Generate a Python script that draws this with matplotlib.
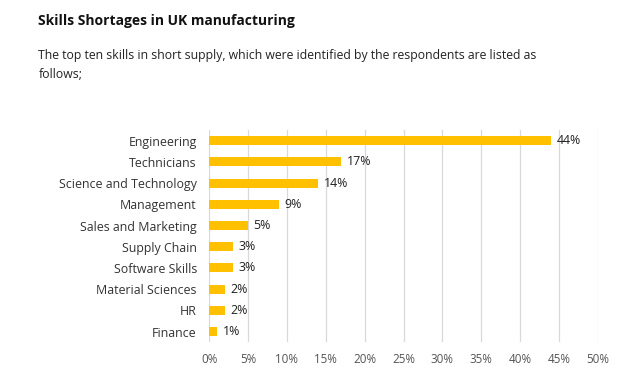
import matplotlib
matplotlib.use("Agg")
from matplotlib import pyplot as plt

skills = ["Engineering", "Technicians", "Science and Technology", "Management",
          "Sales and Marketing", "Supply Chain", "Software Skills",
          "Material Sciences", "HR", "Finance"]
values = [44, 17, 14, 9, 5, 3, 3, 2, 2, 1]
ticks = [0, 5, 10, 15, 20, 25, 30, 35, 40, 45, 50]

plt.rcParams['font.family'] = ['Open Sans', 'DejaVu Sans']

fig = plt.figure(figsize=(6.4, 3.76), dpi=100)
ax = fig.add_axes([0.327, 0.090, 0.607, 0.564])

pos = list(range(len(skills)))[::-1]
ax.barh(pos, values, height=0.42, color="#FFC000", zorder=3)
for p, v in zip(pos, values):
    ax.text(v + 0.7, p, f"{v}%", va="center", ha="left", fontsize=8.9, color="#222222")

ax.set_xlim(0, 50)
ax.set_ylim(-0.5, 9.5)
ax.set_xticks(ticks)
ax.set_xticklabels([f"{t}%" for t in ticks], fontsize=8.4, color="#555555")
ax.set_yticks(pos)
ax.set_yticklabels(skills, fontsize=8.9, color="#333333")
ax.tick_params(length=0, pad=9)
ax.tick_params(axis="x", pad=8)
ax.grid(axis="x", color="#D9D9D9", linewidth=0.9, zorder=0)
for s in ax.spines.values():
    s.set_visible(False)

fig.text(0.06, 0.945, "Skills Shortages in UK manufacturing", fontsize=10, fontweight="bold", color="#111111", va="center")
fig.text(0.06, 0.852, "The top ten skills in short supply, which were identified by the respondents are listed as",
         fontsize=8.85, color="#222222", va="center")
fig.text(0.06, 0.803, "follows;", fontsize=8.85, color="#222222", va="center")

fig.savefig("out.png", dpi=100)
